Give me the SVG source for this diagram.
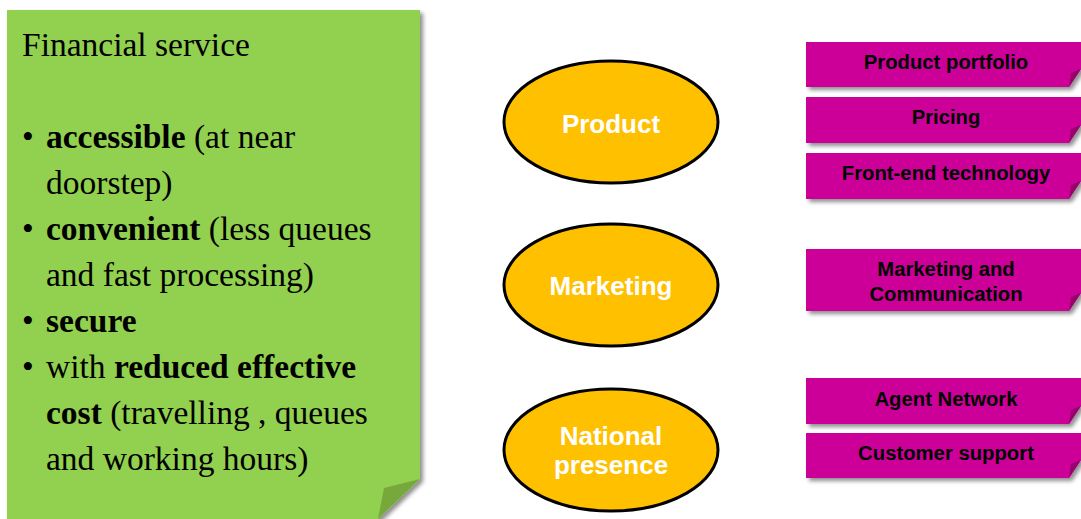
<svg xmlns="http://www.w3.org/2000/svg" width="1081" height="519" viewBox="0 0 1081 519">
  <defs>
    <filter id="shadow" x="-5%" y="-5%" width="115%" height="130%">
      <feGaussianBlur in="SourceAlpha" stdDeviation="2"/>
      <feOffset dx="3" dy="3" result="off"/>
      <feComponentTransfer><feFuncA type="linear" slope="0.45"/></feComponentTransfer>
      <feMerge><feMergeNode/><feMergeNode in="SourceGraphic"/></feMerge>
    </filter>
    <style>
      .note { fill: #92d050; }
      .note-fold { fill: #76a83c; }
      .serif { font-family: "Liberation Serif", "Times New Roman", serif; font-size: 33.5px; fill: #000; }
      .b { font-weight: bold; }
      .oval { fill: #ffc000; stroke: #000; stroke-width: 3; }
      .oval-label { font-family: "Liberation Sans", Arial, sans-serif; font-size: 26px; font-weight: bold; fill: #fff; text-anchor: middle; }
      .tag { fill: #cc0099; }
      .tag-fold { fill: #99006f; }
      .tag-label { font-family: "Liberation Sans", Arial, sans-serif; font-size: 20.3px; font-weight: bold; fill: #000; text-anchor: middle; }
    </style>
  </defs>

  <!-- Sticky note with the service qualities -->
  <g id="financial-service">
    <path class="note" filter="url(#shadow)" d="M7,10 H420 V479 L378,519 H7 Z"/>
    <polygon class="note-fold" points="420,479 384,488 378,519"/>
    <text class="serif" x="22" y="56">Financial service</text>
    <text class="serif" x="22" y="148">•</text>
    <text class="serif" x="46" y="148"><tspan class="b">accessible</tspan> (at near</text>
    <text class="serif" x="46" y="194">doorstep)</text>
    <text class="serif" x="22" y="240">•</text>
    <text class="serif" x="46" y="240"><tspan class="b">convenient</tspan> (less queues</text>
    <text class="serif" x="46" y="286">and fast processing)</text>
    <text class="serif" x="22" y="332">•</text>
    <text class="serif b" x="46" y="332">secure</text>
    <text class="serif" x="22" y="378">•</text>
    <text class="serif" x="46" y="378">with <tspan class="b">reduced effective</tspan></text>
    <text class="serif" x="46" y="424"><tspan class="b">cost</tspan> (travelling , queues</text>
    <text class="serif" x="46" y="470">and working hours)</text>
  </g>

  <!-- Pillars -->
  <g id="product">
    <ellipse class="oval" cx="611" cy="122" rx="107" ry="61"/>
    <text class="oval-label" x="611" y="133">Product</text>
  </g>
  <g id="marketing">
    <ellipse class="oval" cx="611" cy="285" rx="107" ry="61"/>
    <text class="oval-label" x="611" y="295">Marketing</text>
  </g>
  <g id="national-presence">
    <ellipse class="oval" cx="611" cy="450" rx="107" ry="61"/>
    <text class="oval-label" x="611" y="445">National</text>
    <text class="oval-label" x="611" y="474">presence</text>
  </g>

  <!-- Capability tags -->
  <g id="product-portfolio">
    <path class="tag" filter="url(#shadow)" d="M806,42 H1081 V69 L1069,87 H806 Z"/>
    <polygon class="tag-fold" points="1081,69 1071,73 1069,87"/>
    <text class="tag-label" x="946" y="69">Product portfolio</text>
  </g>
  <g id="pricing">
    <path class="tag" filter="url(#shadow)" d="M806,97 H1081 V125 L1069,143 H806 Z"/>
    <polygon class="tag-fold" points="1081,125 1071,129 1069,143"/>
    <text class="tag-label" x="946" y="124">Pricing</text>
  </g>
  <g id="front-end-technology">
    <path class="tag" filter="url(#shadow)" d="M806,153 H1081 V181 L1069,199 H806 Z"/>
    <polygon class="tag-fold" points="1081,181 1071,185 1069,199"/>
    <text class="tag-label" x="946" y="180">Front-end technology</text>
  </g>
  <g id="marketing-communication">
    <path class="tag" filter="url(#shadow)" d="M806,249 H1081 V293 L1069,311 H806 Z"/>
    <polygon class="tag-fold" points="1081,293 1071,297 1069,311"/>
    <text class="tag-label" x="946" y="276">Marketing and</text>
    <text class="tag-label" x="946" y="301">Communication</text>
  </g>
  <g id="agent-network">
    <path class="tag" filter="url(#shadow)" d="M806,378 H1081 V406 L1069,424 H806 Z"/>
    <polygon class="tag-fold" points="1081,406 1071,410 1069,424"/>
    <text class="tag-label" x="946" y="406">Agent Network</text>
  </g>
  <g id="customer-support">
    <path class="tag" filter="url(#shadow)" d="M806,433 H1081 V460 L1069,478 H806 Z"/>
    <polygon class="tag-fold" points="1081,460 1071,464 1069,478"/>
    <text class="tag-label" x="946" y="460">Customer support</text>
  </g>
</svg>
